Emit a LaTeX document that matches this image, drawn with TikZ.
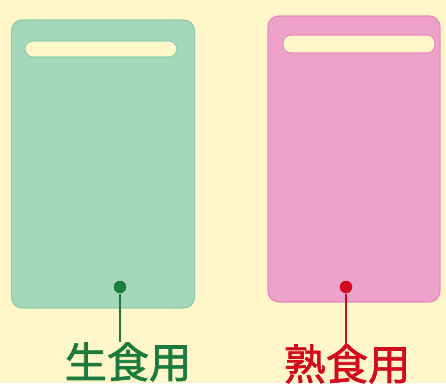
\documentclass[tikz,border=0pt]{standalone}
\usepackage{fontspec}
\newfontfamily\cjk[FakeBold=1.6]{Noto Sans CJK JP}
\definecolor{paper}{HTML}{FFF7C9}
\definecolor{rawgreen}{HTML}{A5D8BA}
\definecolor{rawedge}{HTML}{8ECDA9}
\definecolor{cookpink}{HTML}{EEA1C9}
\definecolor{cookedge}{HTML}{E68DBC}
\definecolor{rawtext}{HTML}{1B7B3C}
\definecolor{cooktext}{HTML}{D10A1E}
\tikzset{
  board/.style={rounded corners=0.22cm, line width=0.8pt},
  slot/.style={fill=paper, rounded corners=0.16cm, line width=0.6pt},
  pin/.style={circle, inner sep=0pt, minimum size=0.25cm},
  tag/.style={font=\cjk\fontsize{24}{26}\selectfont, inner sep=0pt}
}
\begin{document}
\begin{tikzpicture}[x=0.02cm,y=-0.02cm]
\fill[paper] (0,0) rectangle (446,383);
\useasboundingbox (0,0) rectangle (446,383);
%
\node[board, draw=rawedge, fill=rawgreen, minimum width=3.66cm, minimum height=5.76cm] (raw) at (103,164) {};
\node[board, draw=cookedge, fill=cookpink, minimum width=3.44cm, minimum height=5.72cm] (cook) at (354,159) {};
\node[slot, draw=rawedge, minimum width=3.04cm, minimum height=0.32cm] (rawslot) at (101,49) {};
\node[slot, draw=cookedge, minimum width=3.04cm, minimum height=0.36cm] (cookslot) at (359,44) {};
%
\node[pin, fill=rawtext] (rawpin) at (120,287) {};
\node[pin, fill=cooktext] (cookpin) at (346,287) {};
\node[tag, text=rawtext] (rawtag) at (128,362) {生食用};
\node[tag, text=cooktext] (cooktag) at (347,364) {熟食用};
%
\draw[rawtext, line width=1.7pt] (rawpin) -- (rawpin |- rawtag.north);
\draw[cooktext, line width=1.7pt] (cookpin) -- (cookpin |- cooktag.north);
\end{tikzpicture}
\end{document}
